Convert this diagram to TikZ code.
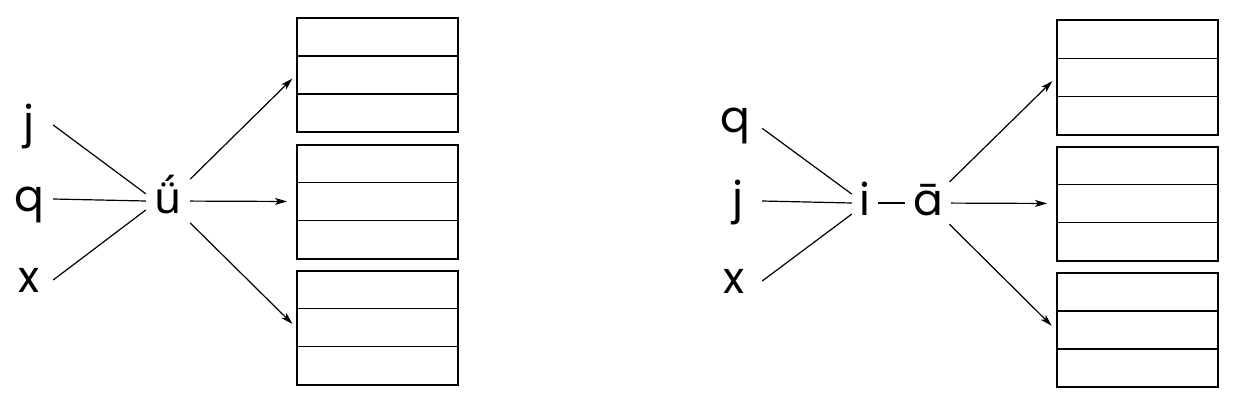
\documentclass[tikz,border=0pt]{standalone}
\usepackage{fontspec}
\setmainfont{Poppins}
\newfontfamily\ufont{Noto Sans}
\usetikzlibrary{arrows.meta,calc}
\tikzset{
  letter/.style={font=\fontsize{44}{44}\selectfont, inner sep=0pt, text height=24pt, text depth=0pt, anchor=center},
  hub/.style={letter, minimum width=44pt, minimum height=44pt},
  conn/.style={line width=1.2pt},
  arr/.style={conn, -{Stealth[length=12pt,width=7pt,inset=3pt]}},
  rowbox/.style={draw, line width=2pt, minimum width=161pt, minimum height=114pt, inner sep=0pt,
    path picture={
      \draw[line width=1.2pt]
        ($(path picture bounding box.north west)!1/3!(path picture bounding box.south west)$) --
        ($(path picture bounding box.north east)!1/3!(path picture bounding box.south east)$)
        ($(path picture bounding box.north west)!2/3!(path picture bounding box.south west)$) --
        ($(path picture bounding box.north east)!2/3!(path picture bounding box.south east)$);
    }},
}
\begin{document}
\begin{tikzpicture}[x=1pt,y=-1pt]
\useasboundingbox (0,0) rectangle (1249,404);
% left group
\node[letter, minimum width=48pt] (lj) at (29,125) {j};
\node[letter, minimum width=48pt] (lq) at (29,199) {q};
\node[letter, minimum width=48pt] (lx) at (29,280) {x};
\node[hub, font=\ufont\fontsize{44}{44}\selectfont] (u) at (168,201) {ǘ};
\node[rowbox] (b1) at (377.5,75) {};
\node[rowbox] (b2) at (377.5,201.5) {};
\node[rowbox] (b3) at (377.5,327.5) {};
\draw[conn] (lj.east) -- (u.162);
\draw[conn] (lq.east) -- (u.west);
\draw[conn] (lx.east) -- (u.202);
\draw[arr, shorten >=5pt] (u) -- (b1.west);
\draw[arr, shorten >=9pt] (u) -- (b2.west);
\draw[arr, shorten >=5pt] (u) -- (b3.west);
% right group
\node[letter, minimum width=54pt] (rq) at (735,120) {q};
\node[letter, minimum width=48pt] (rj) at (738,201) {j};
\node[letter, minimum width=56pt] (rx) at (734,281) {x};
\node[letter, minimum width=26pt, minimum height=26pt] (ri) at (865,203) {i};
\node[hub, minimum width=46pt, minimum height=42pt] (ra) at (928,203) {ā};
\node[rowbox] (b4) at (1137.5,77.5) {};
\node[rowbox] (b5) at (1137.5,203.5) {};
\node[rowbox] (b6) at (1137.5,330) {};
\draw[conn] (rq.-17) -- (ri.146);
\draw[conn] (rj.east) -- (ri.west);
\draw[conn] (rx.east) -- (ri.220);
\draw[conn] (ri.east) -- (ra.west);
\draw[arr, shorten >=5pt] (ra) -- (b4.west);
\draw[arr, shorten >=9pt] (ra) -- (b5.west);
\draw[arr, shorten >=6pt] (ra) -- (b6.west);
\end{tikzpicture}
\end{document}
